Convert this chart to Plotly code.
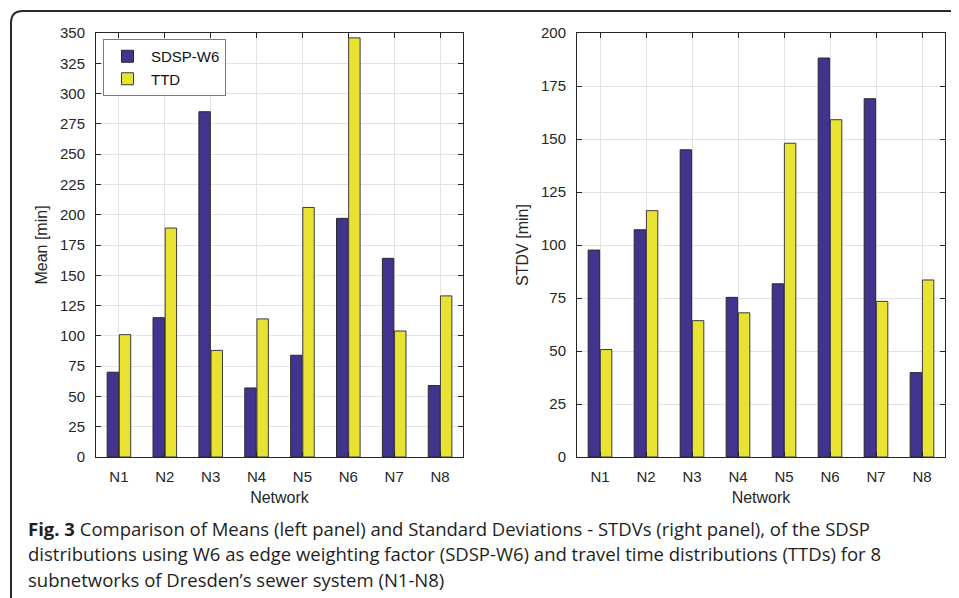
import plotly.graph_objects as go

# The page body adds an 8px margin, so the figure is sized to fill the rest of the window.
OFF = 8
W, H = 959 - OFF, 598 - OFF

networks = ["N1", "N2", "N3", "N4", "N5", "N6", "N7", "N8"]
mean_sdsp = [70, 115, 285, 57, 84, 197, 164, 59]
mean_ttd = [101, 189, 88, 114, 206, 346, 104, 133]
stdv_sdsp = [97.6, 107.2, 144.9, 75.3, 81.7, 188.2, 169, 39.8]
stdv_ttd = [50.7, 116.2, 64.3, 68.0, 148.0, 159.1, 73.4, 83.5]
mean_ticks = list(range(0, 351, 25))
stdv_ticks = list(range(0, 201, 25))

C_SDSP = "#42338f"
C_TTD = "#e8e233"
AX = "#262626"
GRID = "#e3e3e3"
FONT = "Liberation Sans, Arial, sans-serif"


def px(x):
    return (x - OFF) / W


def py(y):
    return 1 - (y - OFF) / H


fig = go.Figure()

fig.add_trace(go.Bar(x=networks, y=mean_sdsp, name="SDSP-W6", marker=dict(color=C_SDSP, line=dict(color="#2a2a2a", width=1)),
                     xaxis="x", yaxis="y"))
fig.add_trace(go.Bar(x=networks, y=mean_ttd, name="TTD", marker=dict(color=C_TTD, line=dict(color="#3a3a3a", width=1)),
                     xaxis="x", yaxis="y"))
fig.add_trace(go.Bar(x=networks, y=stdv_sdsp, name="SDSP-W6", showlegend=False,
                     marker=dict(color=C_SDSP, line=dict(color="#2a2a2a", width=1)), xaxis="x2", yaxis="y2"))
fig.add_trace(go.Bar(x=networks, y=stdv_ttd, name="TTD", showlegend=False,
                     marker=dict(color=C_TTD, line=dict(color="#3a3a3a", width=1)), xaxis="x2", yaxis="y2"))

tickfont = dict(family=FONT, size=15, color=AX)
common_x = dict(type="category", range=[-0.5, 7.5], showgrid=True, gridcolor=GRID, gridwidth=1,
                showline=True, linecolor=AX, linewidth=1, mirror="ticks", ticks="inside", ticklen=5,
                tickcolor=AX, tickfont=tickfont, zeroline=False, fixedrange=True, automargin=False,
                ticklabelstandoff=6,
                title=dict(text="Network", font=dict(family=FONT, size=16, color=AX), standoff=7))
common_y = dict(showgrid=True, gridcolor=GRID, gridwidth=1, showline=True, linecolor=AX, linewidth=1,
                mirror="ticks", ticks="inside", ticklen=5, tickcolor=AX, tickfont=tickfont, zeroline=False,
                fixedrange=True, automargin=False, ticklabelstandoff=7)

fig.update_layout(
    width=W, height=H,
    margin=dict(l=0, r=0, t=0, b=0),
    paper_bgcolor="white", plot_bgcolor="white",
    barmode="group", bargap=0.47, bargroupgap=0.06,
    xaxis=dict(domain=[px(96), px(463)], anchor="y", **common_x),
    yaxis=dict(domain=[py(457), py(33)], anchor="x", range=[0, 350], tickvals=mean_ticks,
               title=dict(text="Mean [min]", font=dict(family=FONT, size=16, color=AX), standoff=8),
               **common_y),
    xaxis2=dict(domain=[px(577), px(945)], anchor="y2", **common_x),
    yaxis2=dict(domain=[py(457), py(33)], anchor="x2", range=[0, 200], tickvals=stdv_ticks,
                title=dict(text="STDV [min]", font=dict(family=FONT, size=16, color=AX), standoff=8),
                **common_y),
    legend=dict(x=px(103), y=py(39), xanchor="left", yanchor="top", bgcolor="white",
                bordercolor="#7a7a7a", borderwidth=1, font=dict(family=FONT, size=15, color="#111"),
                itemwidth=37, tracegroupgap=0),
    showlegend=True,
)

# journal frame with rounded top-left corner
r = 12
path = (f"M {px(11)},{py(610)} L {px(11)},{py(11 + r)} "
        f"Q {px(11)},{py(11)} {px(11 + r)},{py(11)} L {px(970)},{py(11)}")
fig.add_shape(type="path", path=path, xref="paper", yref="paper", line=dict(color="#2b2b2b", width=2))

cap_font = dict(family="Open Sans, sans-serif", size=18.5, color="#1e1e1e")
lines = [
    "<b>Fig. 3</b> Comparison of Means (left panel) and Standard Deviations - STDVs (right panel), of the SDSP",
    "distributions using W6 as edge weighting factor (SDSP-W6) and travel time distributions (TTDs) for 8",
    "subnetworks of Dresden\u2019s sewer system (N1-N8)",
]
for i, t in enumerate(lines):
    fig.add_annotation(text=t, x=px(26), y=py(528 + 25.5 * i), xref="paper", yref="paper",
                       xanchor="left", yanchor="middle", showarrow=False, font=cap_font, align="left")

fig.write_html("out.html")
